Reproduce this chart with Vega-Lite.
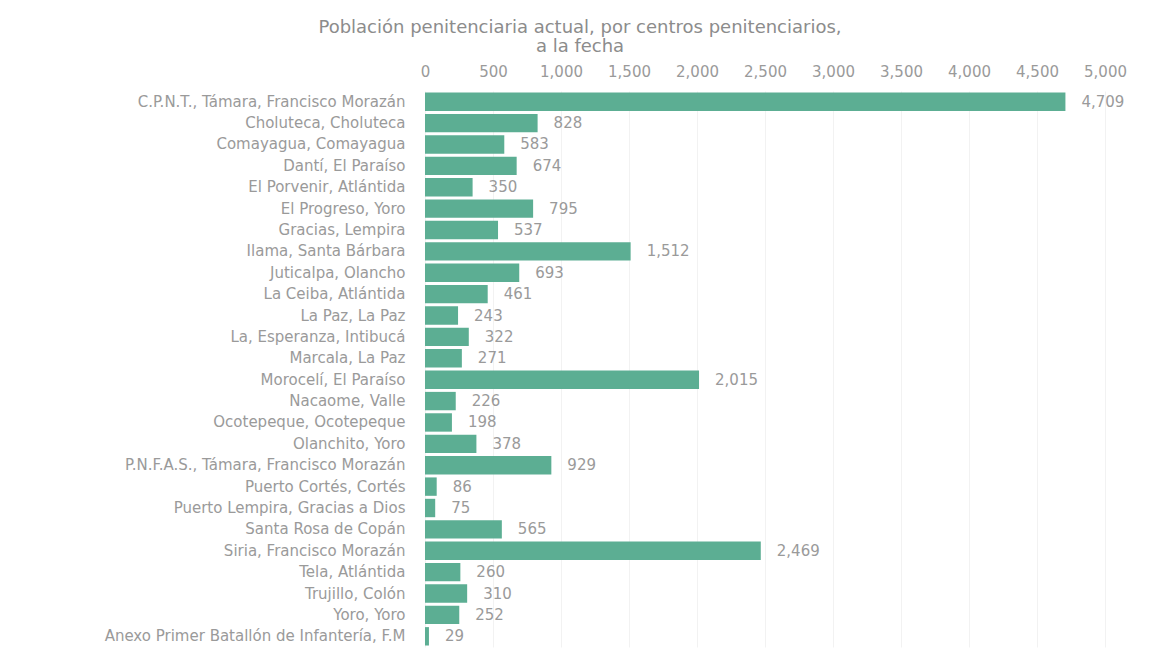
{
  "$schema": "https://vega.github.io/schema/vega-lite/v6.json",
  "width": 680,
  "height": 556,
  "autosize": {"type": "none"},
  "padding": {"left": 425, "top": 91, "right": 45, "bottom": 19},
  "background": "white",
  "title": {
    "text": ["Población penitenciaria actual, por centros penitenciarios,", "a la fecha"],
    "anchor": "middle",
    "dx": -185,
    "offset": 8,
    "font": "DejaVu Sans",
    "fontSize": 18,
    "fontWeight": "normal",
    "color": "#8c8c8c",
    "lineHeight": 19
  },
  "config": {
    "view": {"stroke": null},
    "font": "DejaVu Sans"
  },
  "data": {
    "values": [
      {"centro": "C.P.N.T., Támara, Francisco Morazán", "poblacion": 4709},
      {"centro": "Choluteca, Choluteca", "poblacion": 828},
      {"centro": "Comayagua, Comayagua", "poblacion": 583},
      {"centro": "Dantí, El Paraíso", "poblacion": 674},
      {"centro": "El Porvenir, Atlántida", "poblacion": 350},
      {"centro": "El Progreso, Yoro", "poblacion": 795},
      {"centro": "Gracias, Lempira", "poblacion": 537},
      {"centro": "Ilama, Santa Bárbara", "poblacion": 1512},
      {"centro": "Juticalpa, Olancho", "poblacion": 693},
      {"centro": "La Ceiba, Atlántida", "poblacion": 461},
      {"centro": "La Paz, La Paz", "poblacion": 243},
      {"centro": "La, Esperanza, Intibucá", "poblacion": 322},
      {"centro": "Marcala, La Paz", "poblacion": 271},
      {"centro": "Morocelí, El Paraíso", "poblacion": 2015},
      {"centro": "Nacaome, Valle", "poblacion": 226},
      {"centro": "Ocotepeque, Ocotepeque", "poblacion": 198},
      {"centro": "Olanchito, Yoro", "poblacion": 378},
      {"centro": "P.N.F.A.S., Támara, Francisco Morazán", "poblacion": 929},
      {"centro": "Puerto Cortés, Cortés", "poblacion": 86},
      {"centro": "Puerto Lempira, Gracias a Dios", "poblacion": 75},
      {"centro": "Santa Rosa de Copán", "poblacion": 565},
      {"centro": "Siria, Francisco Morazán", "poblacion": 2469},
      {"centro": "Tela, Atlántida", "poblacion": 260},
      {"centro": "Trujillo, Colón", "poblacion": 310},
      {"centro": "Yoro, Yoro", "poblacion": 252},
      {"centro": "Anexo Primer Batallón de Infantería, F.M", "poblacion": 29}
    ]
  },
  "encoding": {
    "y": {
      "field": "centro",
      "type": "nominal",
      "sort": null,
      "scale": {"paddingInner": 0.14, "paddingOuter": 0.07},
      "axis": {
        "title": null,
        "domain": false,
        "ticks": false,
        "labelPadding": 20,
        "labelFontSize": 15,
        "labelColor": "#9a9a9a",
        "labelFont": "DejaVu Sans",
        "labelLimit": 420
      }
    },
    "x": {
      "field": "poblacion",
      "type": "quantitative",
      "scale": {"domain": [0, 5000], "nice": false},
      "axis": {
        "orient": "top",
        "title": null,
        "values": [0, 500, 1000, 1500, 2000, 2500, 3000, 3500, 4000, 4500, 5000],
        "labelExpr": "format(datum.value, ',')",
        "domain": false,
        "ticks": false,
        "labelPadding": 12,
        "labelFontSize": 15,
        "labelColor": "#9a9a9a",
        "labelFont": "DejaVu Sans",
        "grid": true,
        "gridColor": "#f2f2f2",
        "labelFlush": false
      }
    }
  },
  "layer": [
    {"mark": {"type": "bar", "color": "#5cae93"}},
    {
      "mark": {"type": "text", "align": "left", "dx": 16, "fontSize": 15, "color": "#9a9a9a", "font": "DejaVu Sans"},
      "encoding": {"text": {"field": "poblacion", "type": "quantitative", "format": ","}}
    }
  ]
}
